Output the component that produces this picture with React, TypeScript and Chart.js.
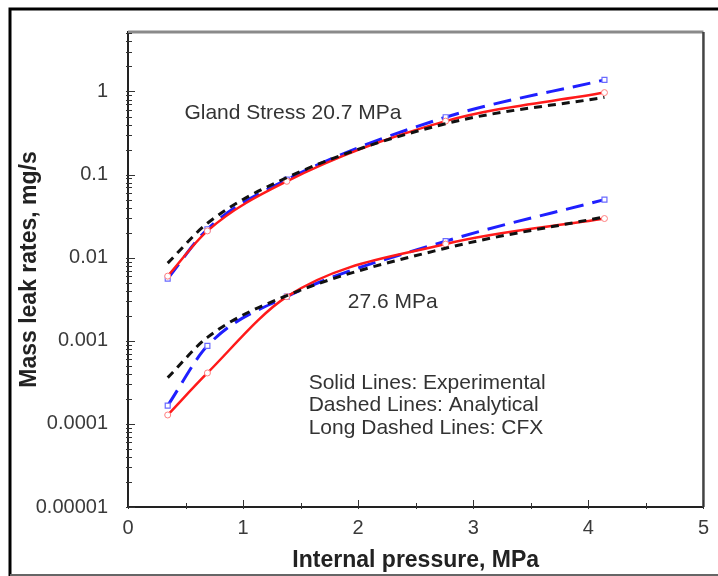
import React, { useEffect, useRef } from "react";
import { Chart, registerables } from "chart.js";

Chart.register(...registerables);

// Internal pressure, MPa
const pressure = [0.345, 0.69, 1.38, 2.76, 4.14];

// Gland stress 20.7 MPa
const exp207 = [0.006, 0.021, 0.083, 0.44, 0.97];
const ana207 = [0.0086, 0.026, 0.092, 0.41, 0.85];
const cfx207 = [0.0056, 0.022, 0.087, 0.49, 1.38];

// Gland stress 27.6 MPa
const exp276 = [0.000128, 0.00041, 0.0034, 0.0146, 0.0296];
const ana276 = [0.00036, 0.0011, 0.0035, 0.013, 0.031];
const cfx276 = [0.000166, 0.00087, 0.0034, 0.0158, 0.05];

const xTickValues = [0, 1, 2, 3, 4, 5];
const yTickValues = [0.00001, 0.0001, 0.001, 0.01, 0.1, 1];
const yTickLabels = ["0.00001", "0.0001", "0.001", "0.01", "0.1", "1"];

const notes = [
  { text: "Gland Stress 20.7 MPa", x: 0.49, y: 0.55 },
  { text: "27.6 MPa", x: 1.91, y: 0.00295 },
  { text: "Solid Lines: Experimental", x: 1.57, y: 0.00031 },
  { text: "Dashed Lines: Analytical", x: 1.57, y: 0.000166 },
  { text: "Long Dashed Lines: CFX", x: 1.57, y: 0.000088 },
];

const FONT = "'Liberation Sans', Arial, sans-serif";

const pts = (ys: number[]) => pressure.map((x, i) => ({ x, y: ys[i] }));

const RED = "#ff1a1a";
const BLUE = "#1f1fff";
const BLACK = "#111111";

const framePlugin = {
  id: "frame",
  beforeDraw(chart: any) {
    const ctx = chart.ctx;
    ctx.save();
    ctx.fillStyle = "#ffffff";
    ctx.fillRect(0, 0, chart.width, chart.height);
    ctx.strokeStyle = "#000";
    ctx.lineWidth = 3;
    ctx.beginPath();
    ctx.moveTo(10, 576);
    ctx.lineTo(10, 9);
    ctx.lineTo(730, 9);
    ctx.stroke();
    ctx.strokeStyle = "#666";
    ctx.lineWidth = 2;
    ctx.beginPath();
    ctx.moveTo(10, 575);
    ctx.lineTo(730, 575);
    ctx.stroke();
    ctx.restore();
  },
  afterDraw(chart: any) {
    const ctx = chart.ctx;
    const { left, right, top, bottom } = chart.chartArea;
    const xs = chart.scales.x;
    const ys = chart.scales.y;
    ctx.save();
    // top & right box lines
    ctx.strokeStyle = "#8a8a8a";
    ctx.lineWidth = 3;
    ctx.beginPath();
    ctx.moveTo(left, top);
    ctx.lineTo(right, top);
    ctx.stroke();
    ctx.strokeStyle = "#444";
    ctx.lineWidth = 2.5;
    ctx.beginPath();
    ctx.moveTo(right, top);
    ctx.lineTo(right, bottom);
    ctx.stroke();
    // y ticks (log minor)
    ctx.strokeStyle = "#333";
    ctx.lineWidth = 1;
    ctx.beginPath();
    for (let e = -5; e <= 0; e++) {
      for (let k = 1; k <= 9; k++) {
        const v = k * Math.pow(10, e);
        if (v > ys.max) continue;
        const py = Math.round(ys.getPixelForValue(v)) + 0.5;
        const len = k === 1 ? 7 : 4;
        ctx.moveTo(left - 2, py);
        ctx.lineTo(left + len, py);
      }
    }
    // x ticks
    for (let i = 0; i <= 10; i++) {
      const v = i * 0.5;
      const px = Math.round(xs.getPixelForValue(v)) + 0.5;
      const len = i % 2 === 0 ? 7 : 4;
      ctx.moveTo(px, bottom + 2);
      ctx.lineTo(px, bottom - len);
    }
    ctx.stroke();
    // notes
    ctx.fillStyle = "#333";
    ctx.font = `21px ${FONT}`;
    ctx.textAlign = "left";
    ctx.textBaseline = "middle";
    for (const n of notes) {
      ctx.fillText(n.text, xs.getPixelForValue(n.x), ys.getPixelForValue(n.y));
    }
    ctx.restore();
  },
};

export default function App() {
  const ref = useRef<HTMLCanvasElement>(null);
  useEffect(() => {
    if (!ref.current) return;
    const common = { fill: false, cubicInterpolationMode: "monotone" as const };
    const chart = new Chart(ref.current, {
      type: "line",
      data: {
        datasets: [
          { ...common, label: "Analytical 20.7", data: pts(ana207), borderColor: BLACK, borderWidth: 3, borderDash: [8, 6], pointRadius: 0 },
          { ...common, label: "Analytical 27.6", data: pts(ana276), borderColor: BLACK, borderWidth: 3, borderDash: [8, 6], pointRadius: 0 },
          { ...common, label: "Experimental 20.7", data: pts(exp207), borderColor: RED, borderWidth: 2.5, pointRadius: 3, pointStyle: "circle", pointBorderColor: "#ff8080", pointBackgroundColor: "#fff", pointBorderWidth: 1 },
          { ...common, label: "Experimental 27.6", data: pts(exp276), borderColor: RED, borderWidth: 2.5, pointRadius: 3, pointStyle: "circle", pointBorderColor: "#ff8080", pointBackgroundColor: "#fff", pointBorderWidth: 1 },
          { ...common, label: "CFX 20.7", data: pts(cfx207), borderColor: BLUE, borderWidth: 3, borderDash: [18, 9], pointRadius: 3.5, pointStyle: "rect", pointBorderColor: "#6a6aff", pointBackgroundColor: "#fff", pointBorderWidth: 1.2 },
          { ...common, label: "CFX 27.6", data: pts(cfx276), borderColor: BLUE, borderWidth: 3, borderDash: [18, 9], pointRadius: 3.5, pointStyle: "rect", pointBorderColor: "#6a6aff", pointBackgroundColor: "#fff", pointBorderWidth: 1.2 },
        ],
      },
      options: {
        responsive: false,
        animation: false,
        layout: { padding: { top: 21, right: 9, left: 0, bottom: 0 } },
        plugins: { legend: { display: false }, tooltip: { enabled: false } },
        scales: {
          x: {
            type: "linear",
            min: 0,
            max: 5,
            afterFit: (s: any) => { s.height = 69; },
            afterBuildTicks: (s: any) => { s.ticks = xTickValues.map((v) => ({ value: v })); },
            grid: { display: false, drawTicks: false },
            border: { display: true, color: "#222", width: 2 },
            ticks: { padding: 9, color: "#3a3a3a", font: { family: FONT, size: 20 }, callback: (v: any) => String(v) },
            title: { display: true, text: "Internal pressure, MPa", color: "#222", font: { family: FONT, size: 23, weight: "bold" }, padding: { top: 0, bottom: 2 } },
          },
          y: {
            type: "logarithmic",
            min: 0.00001,
            max: 5.2,
            afterFit: (s: any) => { s.width = 128; },
            afterBuildTicks: (s: any) => { s.ticks = yTickValues.map((v) => ({ value: v })); },
            grid: { display: false, drawTicks: false },
            border: { display: true, color: "#222", width: 2 },
            ticks: {
              padding: 20,
              color: "#3a3a3a",
              font: { family: FONT, size: 20 },
              callback: (v: any) => {
                const i = yTickValues.findIndex((t) => Math.abs(t - v) / t < 1e-6);
                return i >= 0 ? yTickLabels[i] : "";
              },
            },
            title: { display: true, text: "Mass leak rates, mg/s", color: "#222", font: { family: FONT, size: 23, weight: "bold" }, padding: { top: 16, bottom: 0 } },
          },
        },
      },
      plugins: [framePlugin],
    });
    return () => chart.destroy();
  }, []);
  return (
    <div style={{ position: "fixed", left: 0, top: 0, width: 718, height: 576 }}>
      <canvas ref={ref} width={718} height={576} />
    </div>
  );
}
